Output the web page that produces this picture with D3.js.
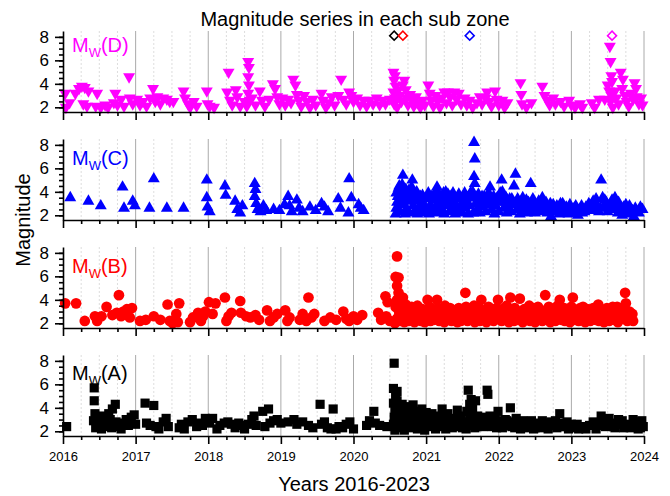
<!DOCTYPE html>
<html>
<head>
<meta charset="utf-8">
<script src="https://cdn.jsdelivr.net/npm/d3@7"></script>
<style>
  body { margin: 0; background: #fff; }
  text { font-family: "Liberation Sans", Arial, sans-serif; }
</style>
</head>
<body>
<svg id="chart" width="670" height="496"></svg>
<script>
// [decimal year, Mw]
const zoneD = [
  [2016.03,3.2],[2016.04,2.0],[2016.09,2.4],[2016.17,3.2],[2016.22,3.6],[2016.26,3.8],[2016.3,3.7],[2016.28,2.3],
  [2016.35,3.4],[2016.33,2.1],[2016.47,3.2],[2016.45,2.1],[2016.52,2.0],[2016.58,2.2],[2016.62,2.0],[2016.7,2.4],
  [2016.72,3.2],[2016.75,2.2],[2016.8,2.7],[2016.84,2.1],[2016.91,4.6],[2016.92,2.8],[2016.96,2.3],[2017.02,2.7],
  [2017.06,2.2],[2017.1,2.5],[2017.15,2.1],[2017.2,2.8],[2017.24,3.6],[2017.27,2.5],[2017.3,2.9],[2017.34,2.3],
  [2017.38,2.8],[2017.43,2.7],[2017.47,2.5],[2017.52,2.5],[2017.66,3.4],[2017.68,2.8],[2017.72,2.3],[2017.75,2.0],
  [2017.8,2.5],[2017.84,2.1],[2017.98,3.4],[2017.99,2.3],[2018.02,2.1],[2018.08,2.0],[2018.28,5.0],[2018.26,3.3],
  [2018.3,2.6],[2018.33,2.2],[2018.38,3.5],[2018.4,2.9],[2018.44,2.1],[2018.5,2.5],[2018.55,5.9],[2018.56,5.4],
  [2018.55,4.6],[2018.56,3.9],[2018.55,3.2],[2018.57,2.6],[2018.53,2.1],[2018.6,2.8],[2018.65,2.2],[2018.71,3.4],
  [2018.74,2.6],[2018.78,2.1],[2018.84,2.7],[2018.89,4.0],[2018.92,3.6],[2018.95,2.9],[2018.98,2.3],[2019.02,2.8],
  [2019.06,2.2],[2019.1,2.7],[2019.14,2.4],[2019.17,4.4],[2019.2,3.9],[2019.22,3.1],[2019.25,2.6],[2019.28,2.1],
  [2019.32,3.0],[2019.36,2.5],[2019.4,2.0],[2019.44,2.7],[2019.48,2.2],[2019.56,3.2],[2019.58,2.6],[2019.62,2.0],
  [2019.66,2.4],[2019.7,2.9],[2019.74,2.2],[2019.79,3.0],[2019.83,4.4],[2019.86,2.7],[2019.9,2.3],[2019.94,3.3],
  [2019.97,3.0],[2020.0,2.5],[2020.05,2.8],[2020.09,2.2],[2020.14,2.6],[2020.18,2.1],[2020.22,2.6],[2020.27,2.3],
  [2020.32,2.8],[2020.36,2.2],[2020.4,2.6],[2020.44,2.3],[2020.5,2.7],
  [2020.55,5.0],[2020.57,4.7],[2020.56,4.3],[2020.58,3.8],[2020.55,3.3],[2020.57,2.8],[2020.56,2.3],[2020.6,2.0],
  [2020.62,3.5],[2020.64,3.0],[2020.66,2.5],[2020.68,3.9],[2020.7,4.3],[2020.72,3.5],[2020.73,2.8],[2020.75,2.2],
  [2020.78,3.1],[2020.8,2.6],[2020.83,2.1],[2020.86,2.9],[2020.88,2.4],[2020.92,2.0],[2020.95,2.6],[2020.98,2.2],
  [2021.03,3.9],[2021.05,3.2],[2021.07,2.6],[2021.1,2.1],[2021.13,3.0],[2021.16,2.5],[2021.19,2.0],[2021.22,2.8],
  [2021.25,3.3],[2021.28,2.4],[2021.3,3.3],[2021.33,2.9],[2021.36,2.2],[2021.39,3.3],[2021.42,2.7],[2021.45,3.2],
  [2021.48,2.3],[2021.53,2.8],[2021.56,2.2],[2021.6,2.6],[2021.64,2.0],[2021.7,2.4],[2021.74,2.9],[2021.77,2.3],
  [2021.82,2.8],[2021.84,3.3],[2021.87,2.5],[2021.9,2.1],[2021.95,3.4],[2021.97,2.7],[2022.0,2.2],[2022.05,2.6],
  [2022.08,2.0],[2022.12,2.4],[2022.3,4.1],[2022.31,3.1],[2022.32,2.3],[2022.38,2.0],[2022.45,2.4],[2022.6,3.8],
  [2022.63,3.0],[2022.67,2.6],[2022.7,2.2],[2022.75,2.8],[2022.78,2.3],[2022.85,2.5],[2022.9,2.1],[2022.97,2.6],
  [2023.0,2.2],[2023.05,2.0],[2023.12,2.3],[2023.15,2.0],[2023.28,2.4],[2023.32,2.0],[2023.38,2.7],[2023.46,2.7],
  [2023.5,3.9],[2023.52,3.4],[2023.53,7.2],[2023.54,5.9],[2023.55,4.7],[2023.56,4.2],[2023.55,3.0],[2023.54,2.5],
  [2023.57,2.0],[2023.6,3.4],[2023.62,2.8],[2023.65,2.3],[2023.68,5.0],[2023.71,4.4],[2023.7,3.6],[2023.74,3.0],
  [2023.76,2.5],[2023.79,2.1],[2023.82,3.2],[2023.85,2.7],[2023.87,4.1],[2023.89,3.6],[2023.9,2.9],[2023.93,2.3],
  [2023.96,2.8],[2023.98,2.2]
];

const zoneC = [
  [2016.1,3.5],[2016.35,3.2],[2016.52,2.8],[2016.82,4.4],[2016.84,2.6],[2016.96,3.2],[2016.99,2.8],[2017.19,2.6],
  [2017.25,5.1],[2017.43,2.6],[2017.66,2.6],[2017.98,5.0],[2017.98,3.5],[2017.99,2.7],[2018.02,2.3],[2018.23,4.5],
  [2018.24,3.7],[2018.37,3.2],[2018.4,2.5],[2018.44,2.2],[2018.47,2.8],[2018.64,4.7],[2018.65,4.2],[2018.64,3.6],
  [2018.66,3.0],[2018.68,2.5],[2018.72,2.3],[2018.76,2.8],[2018.8,2.4],[2018.9,2.5],[2018.98,2.4],[2019.05,2.9],
  [2019.1,3.6],[2019.12,2.8],[2019.15,2.3],[2019.22,3.3],[2019.25,2.6],[2019.3,2.3],[2019.4,2.7],[2019.48,2.4],
  [2019.56,3.0],[2019.6,2.7],[2019.65,2.3],[2019.79,3.4],[2019.82,2.6],[2019.94,5.1],[2019.97,3.5],[2019.93,2.2],
  [2020.07,2.9],[2020.1,2.6],[2020.14,2.4],
  [2020.58,2.1],[2020.59,2.6],[2020.6,3.1],[2020.61,3.6],[2020.62,4.3],[2020.64,2.3],[2020.66,2.9],[2020.68,5.4],
  [2020.69,3.4],[2020.7,4.0],[2020.71,2.1],[2020.73,2.6],[2020.75,3.2],[2020.77,2.2],[2020.79,3.7],[2020.81,5.0],
  [2020.82,2.8],[2020.84,2.3],[2020.86,3.3],[2020.88,2.1],[2020.9,2.7],[2020.92,3.6],[2020.94,2.3],[2020.96,3.0],
  [2020.98,2.2],[2021.0,2.6],[2021.02,3.5],[2021.04,2.1],[2021.06,2.9],[2021.08,2.4],[2021.1,3.4],[2021.12,2.2],
  [2021.14,2.8],[2021.15,4.4],[2021.17,2.3],[2021.19,3.1],[2021.21,2.6],[2021.23,3.6],[2021.25,2.1],[2021.27,4.0],
  [2021.28,2.8],[2021.3,3.8],[2021.32,2.3],[2021.34,3.0],[2021.36,2.5],[2021.38,3.2],[2021.4,2.1],[2021.42,2.7],
  [2021.44,3.4],[2021.46,2.3],[2021.48,2.9],[2021.5,2.2],[2021.52,3.6],[2021.54,2.6],[2021.56,3.1],[2021.58,2.1],
  [2021.6,2.8],[2021.62,3.5],[2021.64,4.0],[2021.66,8.2],[2021.67,6.8],[2021.66,5.3],[2021.67,4.7],[2021.65,2.2],
  [2021.68,3.0],[2021.7,2.5],[2021.72,3.8],[2021.74,2.2],[2021.76,3.3],[2021.78,2.7],[2021.8,3.6],[2021.82,2.3],
  [2021.84,2.9],[2021.86,3.9],[2021.88,4.4],[2021.9,2.5],[2021.92,3.3],[2021.94,2.1],[2021.96,2.8],[2021.98,3.5],
  [2022.0,2.3],[2022.02,3.9],[2022.04,5.0],[2022.05,4.0],[2022.07,2.6],[2022.09,3.1],[2022.11,2.2],[2022.13,2.7],
  [2022.15,3.4],[2022.17,2.3],[2022.19,2.9],[2022.21,4.5],[2022.23,5.5],[2022.25,2.5],[2022.27,3.2],[2022.29,2.1],
  [2022.31,2.7],[2022.33,3.5],[2022.35,2.3],[2022.37,2.9],[2022.39,2.2],[2022.41,3.1],[2022.44,4.7],[2022.46,2.5],
  [2022.48,3.0],[2022.5,2.2],[2022.52,2.7],[2022.55,3.2],[2022.58,2.3],[2022.6,3.5],[2022.62,2.6],[2022.65,3.1],
  [2022.67,2.2],[2022.7,2.6],[2022.72,1.9],[2022.75,2.9],[2022.78,2.3],[2022.8,2.8],[2022.83,2.1],[2022.86,2.6],
  [2022.88,3.0],[2022.9,2.2],[2022.93,2.7],[2022.96,2.1],[2023.0,2.6],[2023.03,2.2],[2023.06,2.8],[2023.09,2.0],
  [2023.12,2.5],[2023.15,2.2],[2023.2,2.7],[2023.24,3.0],[2023.27,2.4],[2023.3,3.2],[2023.32,2.6],[2023.35,2.9],
  [2023.38,2.3],[2023.41,5.0],[2023.43,3.5],[2023.45,2.7],[2023.48,3.1],[2023.5,2.3],[2023.53,2.8],[2023.56,3.3],
  [2023.58,2.5],[2023.6,3.5],[2023.62,2.9],[2023.64,2.2],[2023.67,2.7],[2023.7,2.0],[2023.73,2.5],[2023.75,2.9],
  [2023.78,2.2],[2023.82,2.1],[2023.86,1.9],[2023.9,2.3],[2023.95,2.7],[2023.98,2.5],
  [2020.59,3.9],[2020.63,4.5],[2020.65,3.8],[2020.67,4.6],[2020.72,4.2],[2020.74,3.6],[2020.76,4.1],[2020.78,3.5],
  [2020.8,4.4],[2020.83,3.9],[2020.85,3.6],[2020.87,4.0],[2020.91,3.2],[2020.95,3.7],[2020.99,3.4],[2021.03,3.9],
  [2021.07,3.6],[2021.11,3.8],[2021.13,3.3],[2021.16,4.0],[2021.2,3.5],[2021.24,3.9],[2021.29,3.3],[2021.33,3.6],
  [2021.37,3.9],[2021.41,3.4],[2021.45,3.8],[2021.49,3.4],[2021.53,3.9],[2021.57,3.5],[2021.61,3.9],[2021.69,3.5],
  [2021.73,3.1],[2021.77,3.6],[2021.81,3.1],[2021.85,3.5],[2021.89,3.0],[2021.93,3.6],[2021.97,3.1],[2022.01,3.4],
  [2022.06,3.3],[2022.1,3.5],[2022.14,3.1],[2022.18,3.4],[2022.22,3.0],[2022.26,3.4],[2022.3,3.0],[2022.34,2.7],
  [2022.38,3.3],[2022.42,2.6],[2022.47,3.4],[2022.51,2.8],[2022.56,2.6],[2022.61,3.0],[2022.66,2.7],[2022.71,3.0],
  [2022.76,2.5],[2022.81,2.4],[2022.85,3.0],[2022.91,2.6],[2022.98,2.9],[2023.04,2.6],[2023.1,2.4],[2023.14,2.8],
  [2023.18,2.3],[2023.22,2.5],[2023.26,2.8],[2023.34,3.4],[2023.4,2.6],[2023.46,3.3],[2023.52,2.6],[2023.55,3.0],
  [2023.65,3.1],[2023.68,2.4],[2023.72,2.7],[2023.76,2.4],[2023.8,2.8],[2023.84,2.4],[2023.88,2.6],[2023.93,2.2]
];

const zoneB = [
  [2016.03,3.7],[2016.18,3.7],[2016.3,2.2],[2016.44,2.6],[2016.47,2.2],[2016.53,2.6],[2016.6,3.4],[2016.68,2.7],
  [2016.74,2.9],[2016.77,4.4],[2016.8,2.6],[2016.83,3.0],[2016.88,3.2],[2016.92,2.5],[2016.95,3.3],[2017.06,2.2],
  [2017.14,2.3],[2017.25,2.6],[2017.34,2.3],[2017.44,3.6],[2017.47,2.2],[2017.51,2.0],[2017.56,2.8],[2017.6,3.7],
  [2017.58,2.1],[2017.75,2.1],[2017.79,2.5],[2017.86,2.9],[2017.9,2.2],[2017.93,2.6],[2017.96,3.0],[2018.01,3.8],
  [2018.06,2.8],[2018.1,3.7],[2018.23,4.2],[2018.25,2.2],[2018.28,2.6],[2018.32,2.9],[2018.44,3.9],[2018.45,2.9],
  [2018.52,2.6],[2018.58,2.5],[2018.65,2.7],[2018.7,2.3],[2018.81,3.1],[2018.85,2.2],[2018.9,2.5],[2018.95,2.8],
  [2019.06,3.1],[2019.09,2.2],[2019.12,2.5],[2019.26,2.3],[2019.3,2.8],[2019.35,2.2],[2019.38,4.2],[2019.42,2.5],
  [2019.46,2.8],[2019.6,2.2],[2019.68,2.5],[2019.76,2.3],[2019.86,3.0],[2019.9,2.4],[2019.94,2.2],[2020.0,2.6],
  [2020.05,2.3],[2020.12,2.7],[2020.34,2.9],[2020.38,2.3],[2020.44,4.3],[2020.47,3.8],[2020.45,2.6],[2020.5,2.2],
  [2020.6,7.7],[2020.58,5.95],[2020.62,5.9],[2020.6,5.2],[2020.62,4.6],[2020.6,4.0],[2020.58,3.4],[2020.63,2.9],
  [2020.6,2.4],[2020.57,2.0],
  [2020.64,2.2],[2020.65,3.3],[2020.66,2.7],[2020.68,4.2],[2020.69,3.0],[2020.7,2.1],[2020.72,3.6],[2020.73,2.5],
  [2020.75,3.1],[2020.76,2.2],[2020.78,2.8],[2020.8,3.4],[2020.81,2.4],[2020.83,3.0],[2020.84,2.1],[2020.86,2.6],
  [2020.88,3.5],[2020.89,2.3],[2020.91,2.9],[2020.93,2.2],[2020.95,3.2],[2020.96,2.6],[2020.98,2.1],[2021.0,3.0],
  [2021.02,4.0],[2021.03,2.5],[2021.05,3.4],[2021.06,2.2],[2021.08,2.8],[2021.1,3.1],[2021.11,2.3],[2021.13,2.7],
  [2021.15,4.0],[2021.16,3.3],[2021.18,2.2],[2021.2,2.9],[2021.21,2.5],[2021.23,3.2],[2021.25,2.1],[2021.26,3.5],
  [2021.28,2.7],[2021.3,2.3],[2021.31,3.0],[2021.33,3.3],[2021.35,2.2],[2021.36,2.6],[2021.38,3.1],[2021.4,2.4],
  [2021.42,2.9],[2021.43,2.1],[2021.45,3.3],[2021.47,2.6],[2021.48,2.2],[2021.5,3.0],[2021.52,2.5],[2021.54,4.6],
  [2021.55,3.4],[2021.57,2.2],[2021.59,2.8],[2021.6,3.2],[2021.62,2.3],[2021.64,2.7],[2021.66,3.5],[2021.67,2.1],
  [2021.69,3.0],[2021.71,2.5],[2021.73,3.3],[2021.74,2.2],[2021.76,4.0],[2021.77,2.8],[2021.79,3.1],[2021.81,2.4],
  [2021.83,2.1],[2021.84,2.9],[2021.86,3.4],[2021.88,2.3],[2021.9,2.7],[2021.91,3.1],[2021.93,2.2],[2021.95,2.6],
  [2021.97,3.3],[2021.99,4.0],[2022.0,2.5],[2022.02,2.9],[2022.04,2.2],[2022.05,3.2],[2022.07,2.7],[2022.09,2.3],
  [2022.11,3.5],[2022.12,2.8],[2022.14,2.1],[2022.16,4.2],[2022.17,3.0],[2022.19,2.5],[2022.21,2.2],[2022.22,3.3],
  [2022.24,2.7],[2022.26,2.3],[2022.28,3.0],[2022.29,4.1],[2022.31,2.6],[2022.33,2.1],[2022.35,3.2],[2022.36,2.8],
  [2022.38,2.4],[2022.4,3.0],[2022.42,3.5],[2022.43,2.2],[2022.45,2.7],[2022.47,3.3],[2022.48,2.5],[2022.5,2.1],
  [2022.52,2.9],[2022.54,3.4],[2022.55,2.3],[2022.57,2.7],[2022.59,3.1],[2022.6,2.2],[2022.62,2.6],[2022.64,4.4],
  [2022.66,3.0],[2022.67,2.4],[2022.69,3.4],[2022.71,2.1],[2022.73,2.8],[2022.74,3.2],[2022.76,2.5],[2022.78,2.2],
  [2022.8,3.0],[2022.81,3.5],[2022.83,2.6],[2022.84,4.0],[2022.86,2.3],[2022.88,2.9],[2022.9,3.3],[2022.91,2.2],
  [2022.93,2.7],[2022.95,3.1],[2022.97,2.4],[2022.98,2.1],[2023.0,3.4],[2023.02,4.2],[2023.03,2.8],[2023.05,2.3],
  [2023.07,3.0],[2023.09,2.6],[2023.1,2.2],[2023.12,3.3],[2023.14,2.7],[2023.16,3.4],[2023.17,2.4],[2023.19,2.1],
  [2023.21,2.9],[2023.22,3.2],[2023.24,2.5],[2023.26,2.2],[2023.28,3.0],[2023.3,3.3],[2023.31,2.6],[2023.33,2.3],
  [2023.35,2.8],[2023.37,3.6],[2023.38,2.2],[2023.4,2.7],[2023.42,3.1],[2023.43,2.4],[2023.45,2.1],[2023.47,2.9],
  [2023.49,3.3],[2023.5,2.5],[2023.52,2.2],[2023.54,3.0],[2023.56,2.7],[2023.57,3.4],[2023.59,2.3],[2023.61,2.8],
  [2023.63,3.4],[2023.64,2.1],[2023.66,2.6],[2023.68,3.1],[2023.7,2.4],[2023.71,2.9],[2023.73,3.2],[2023.74,4.6],
  [2023.75,3.7],[2023.77,2.2],[2023.79,2.7],[2023.8,3.0],[2023.82,2.4],[2023.84,2.8],[2023.85,2.2]
];

const zoneA = [
  [2016.05,2.4],[2016.43,5.7],[2016.43,4.6],[2016.44,3.5],[2016.42,2.9],[2016.45,2.3],[2016.48,3.1],[2016.5,2.6],
  [2016.53,2.2],[2016.55,3.3],[2016.58,2.8],[2016.6,2.4],[2016.63,3.5],[2016.65,3.0],[2016.67,2.3],[2016.68,3.9],
  [2016.72,4.3],[2016.73,2.8],[2016.76,2.4],[2016.8,2.2],[2016.83,2.7],[2016.87,3.0],[2016.9,2.5],[2016.94,3.2],
  [2016.98,3.4],[2017.0,2.6],[2017.13,4.4],[2017.15,2.7],[2017.2,2.5],[2017.25,4.2],[2017.28,2.4],[2017.32,2.2],
  [2017.38,2.8],[2017.42,3.1],[2017.45,2.4],[2017.6,2.3],[2017.63,2.6],[2017.67,2.2],[2017.72,2.8],[2017.78,3.0],
  [2017.84,2.4],[2017.88,2.7],[2017.92,2.5],[2017.96,3.1],[2018.02,2.7],[2018.06,3.1],[2018.12,2.2],[2018.16,2.5],
  [2018.22,2.7],[2018.27,2.8],[2018.32,2.6],[2018.37,2.3],[2018.42,2.7],[2018.46,2.5],[2018.5,2.2],[2018.55,2.6],
  [2018.6,3.0],[2018.63,3.3],[2018.66,2.5],[2018.75,3.7],[2018.78,2.4],[2018.83,3.9],[2018.85,2.7],[2018.9,2.9],
  [2018.95,3.0],[2019.0,2.7],[2019.1,2.8],[2019.18,3.0],[2019.22,2.6],[2019.3,2.8],[2019.38,2.5],[2019.44,2.3],
  [2019.54,4.3],[2019.56,2.6],[2019.6,2.8],[2019.64,2.3],[2019.69,2.2],[2019.72,3.9],[2019.76,2.2],[2019.8,2.4],
  [2019.85,2.3],[2019.9,2.6],[2019.95,2.8],[2020.0,2.2],[2020.18,2.5],[2020.22,2.9],[2020.28,3.7],[2020.3,2.7],
  [2020.36,2.5],[2020.46,2.4],
  [2020.56,7.8],[2020.55,5.65],[2020.6,5.4],[2020.55,4.4],[2020.57,3.8],[2020.56,3.2],[2020.55,2.6],[2020.57,2.1],
  [2020.6,4.6],[2020.62,3.5],[2020.63,2.9],[2020.62,2.3],[2020.65,2.6],[2020.66,4.0],[2020.68,3.3],[2020.7,2.7],
  [2020.7,2.1],[2020.72,3.0],[2020.74,3.6],[2020.76,2.9],[2020.78,2.3],[2020.8,2.5],[2020.82,4.25],[2020.84,3.3],
  [2020.86,2.7],[2020.88,2.2],[2020.9,2.9],[2020.92,3.4],[2020.95,2.6],[2020.98,2.1],[2021.0,3.6],[2021.02,3.0],
  [2021.05,2.4],[2021.08,3.5],[2021.1,2.8],[2021.13,2.2],[2021.15,2.6],[2021.17,3.2],[2021.2,2.5],[2021.22,3.9],
  [2021.24,2.9],[2021.27,2.2],[2021.3,3.5],[2021.33,2.8],[2021.36,2.3],[2021.4,3.1],[2021.43,3.8],[2021.46,2.6],
  [2021.5,2.3],[2021.55,2.2],[2021.57,2.8],[2021.58,5.5],[2021.6,4.3],[2021.6,3.4],[2021.62,4.7],[2021.63,2.6],
  [2021.66,3.0],[2021.68,4.6],[2021.7,2.4],[2021.73,3.0],[2021.76,2.5],[2021.8,3.2],[2021.84,5.5],[2021.85,5.15],
  [2021.86,2.8],[2021.9,2.4],[2021.95,3.1],[2021.99,3.7],[2022.02,2.6],[2022.05,2.3],[2022.09,3.0],[2022.13,2.5],
  [2022.16,4.0],[2022.19,2.8],[2022.22,2.3],[2022.26,2.7],[2022.3,2.2],[2022.35,2.6],[2022.4,2.4],[2022.45,2.9],
  [2022.5,2.3],[2022.55,2.7],[2022.6,2.9],[2022.64,2.4],[2022.68,2.2],[2022.72,2.8],[2022.76,2.5],[2022.8,2.3],
  [2022.84,3.5],[2022.88,2.7],[2022.92,2.4],[2022.96,2.2],[2023.0,2.6],[2023.05,2.3],[2023.1,2.2],[2023.15,2.4],
  [2023.25,2.5],[2023.3,2.8],[2023.34,2.2],[2023.38,2.7],[2023.41,3.3],[2023.44,3.0],[2023.47,2.4],[2023.5,2.8],
  [2023.55,2.5],[2023.6,2.3],[2023.65,3.0],[2023.68,2.6],[2023.72,2.3],[2023.78,2.6],[2023.85,3.0],[2023.88,2.5],
  [2023.92,2.2],[2023.97,2.9],[2023.99,2.4],
  [2020.58,4.9],[2020.61,4.1],[2020.64,3.7],[2020.67,4.3],[2020.69,3.6],[2020.73,4.1],[2020.77,3.5],[2020.79,3.9],
  [2020.83,3.0],[2020.87,3.7],[2020.9,2.3],[2020.94,3.9],[2020.97,3.2],[2021.01,2.5],[2021.04,3.4],[2021.07,2.7],
  [2021.12,3.3],[2021.18,2.4],[2021.26,3.4],[2021.32,2.5],[2021.38,2.9],[2021.42,2.4],[2021.48,3.3],[2021.52,2.7],
  [2021.56,3.7],[2021.59,2.5],[2021.64,3.9],[2021.67,2.3],[2021.71,3.3],[2021.75,2.9],[2021.78,2.4],[2021.82,2.8],
  [2021.88,3.3],[2021.92,2.6],[2021.97,2.3],[2022.0,2.9],[2022.07,2.5],[2022.11,2.9],[2022.18,2.4],[2022.24,3.1],
  [2022.28,2.6],[2022.33,2.9],[2022.38,2.3],[2022.43,2.6],[2022.48,2.2],[2022.53,2.5],[2022.58,2.3],[2022.62,2.7],
  [2022.7,2.5],[2022.78,2.9],[2022.86,2.4],[2022.94,2.8],[2023.02,2.4],[2023.08,2.6],[2023.2,2.2],[2023.45,2.5],
  [2023.52,3.1],[2023.58,2.4],[2023.62,2.7],[2023.7,2.9],[2023.75,2.4],[2023.82,2.3],[2023.9,2.8],[2023.95,2.3]
];

// largest event of each zone, marked on top of the D panel
const maxEvents = [[2020.56,'A'],[2020.68,'B'],[2021.6,'C'],[2023.56,'D']];
const maxMarkLevel = 8.1;

const yearTicks = [2016,2017,2018,2019,2020,2021,2022,2023,2024];
const magTicks = [2,4,6,8];

const colors = { A: '#000000', B: '#ff0000', C: '#0000ff', D: '#ff00ff' };

const svg = d3.select('#chart');

const x = d3.scaleLinear().domain([2016, 2024]).range([63, 644]);
const panelH = 81;

const panels = [
  { key: 'D', data: zoneD, top: 31, sym: d3.symbolTriangle, size: 62, rot: 180, labelDy: 21 },
  { key: 'C', data: zoneC, top: 139, sym: d3.symbolTriangle, size: 62, rot: 0, labelDy: 26 },
  { key: 'B', data: zoneB, top: 247, sym: d3.symbolCircle, size: 90, rot: 0, labelDy: 26 },
  { key: 'A', data: zoneA, top: 355, sym: d3.symbolSquare, size: 84, rot: 0, labelDy: 25 }
];

const quarters = d3.range(2016, 2024.001, 0.25).filter(q => q % 1 !== 0);

panels.forEach((p, i) => {
  const y = d3.scaleLinear().domain([1.6, 8.5]).range([p.top + panelH, p.top]);
  const g = svg.append('g');
  const last = i === panels.length - 1;

  // grid
  g.selectAll('.qgrid').data(quarters).join('line')
    .attr('x1', d => x(d)).attr('x2', d => x(d))
    .attr('y1', p.top).attr('y2', p.top + panelH)
    .attr('stroke', '#d4d4d4').attr('stroke-dasharray', '2,2').attr('stroke-width', 0.8);
  g.selectAll('.ygrid').data(yearTicks.slice(1)).join('line')
    .attr('x1', d => x(d)).attr('x2', d => x(d))
    .attr('y1', p.top).attr('y2', p.top + panelH)
    .attr('stroke', '#aaaaaa').attr('stroke-width', 1);

  // points
  const symbol = d3.symbol().type(p.sym).size(p.size);
  g.selectAll('.pt').data(p.data).join('path')
    .attr('d', symbol)
    .attr('transform', d => `translate(${x(d[0])},${y(d[1])}) rotate(${p.rot})`)
    .attr('fill', colors[p.key]);

  // max-event diamonds
  if (p.key === 'D') {
    const dia = d3.symbol().type(d3.symbolSquare).size(40);
    g.selectAll('.mx').data(maxEvents).join('path')
      .attr('d', dia)
      .attr('transform', d => `translate(${x(d[0])},${y(maxMarkLevel)}) rotate(45)`)
      .attr('fill', 'white')
      .attr('stroke', d => colors[d[1]])
      .attr('stroke-width', 1.6);
  }

  // x axis
  const xa = g.append('g').attr('transform', `translate(0,${p.top + panelH})`)
    .call(d3.axisBottom(x).tickValues(yearTicks).tickSize(8).tickSizeOuter(0).tickPadding(8)
      .tickFormat(last ? d3.format('d') : ''));
  const xm = g.append('g').attr('transform', `translate(0,${p.top + panelH})`)
    .call(d3.axisBottom(x).tickValues(quarters).tickSize(4).tickFormat(''));
  xm.select('.domain').remove();

  // y axis
  const ya = g.append('g').attr('transform', 'translate(63,0)')
    .call(d3.axisLeft(y).tickValues(magTicks).tickSize(8).tickSizeOuter(0).tickPadding(6)
      .tickFormat(d3.format('d')));
  const ym = g.append('g').attr('transform', 'translate(63,0)')
    .call(d3.axisLeft(y).tickValues(d3.range(2, 8.01, 0.5)).tickSize(4).tickFormat(''));
  ym.select('.domain').remove();

  [xa, xm, ya, ym].forEach(a => {
    a.selectAll('path, line').attr('stroke', '#000').attr('stroke-width', 1.6);
  });
  xa.selectAll('text').attr('font-size', 13).attr('fill', '#000')
    .style('font-family', '"Liberation Sans", Arial, sans-serif');
  ya.selectAll('text').attr('font-size', 17).attr('fill', '#000')
    .style('font-family', '"Liberation Sans", Arial, sans-serif');

  // zone label M_W(X)
  const lab = g.append('text')
    .attr('x', 72).attr('y', p.top + p.labelDy)
    .attr('fill', colors[p.key]).attr('font-size', 20);
  lab.append('tspan').text('M');
  lab.append('tspan').attr('font-size', 13).attr('dy', 5).text('W');
  lab.append('tspan').attr('dy', -5).text(`(${p.key})`);
});

svg.append('text')
  .attr('x', 355).attr('y', 26).attr('text-anchor', 'middle')
  .attr('font-size', 20).text('Magnitude series in each sub zone');

svg.append('text')
  .attr('transform', 'translate(30,220) rotate(-90)')
  .attr('text-anchor', 'middle').attr('font-size', 20).text('Magnitude');

svg.append('text')
  .attr('x', 354).attr('y', 491).attr('text-anchor', 'middle')
  .attr('font-size', 20).text('Years 2016-2023');
</script>
</body>
</html>
